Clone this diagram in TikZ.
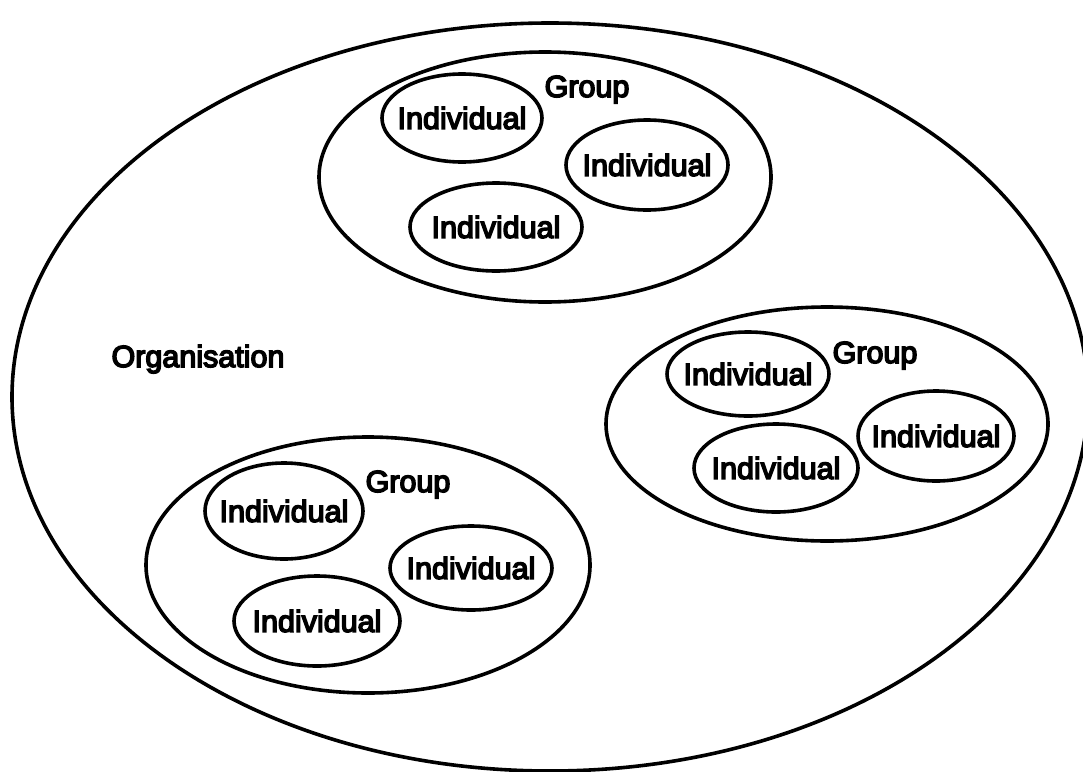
\documentclass[tikz,border=0pt]{standalone}
\usepackage{fontspec}
\newfontfamily\diagfont{Liberation Sans}
\usetikzlibrary{shapes.geometric}
\newcommand{\heavy}[1]{\special{pdf:code q 2 Tr 1.5 w}#1\special{pdf:code Q}}
\tikzset{
  oval/.style={draw=black, line width=3.6pt, ellipse, inner sep=0pt},
  indiv/.style={oval, font=\diagfont\fontsize{30.5}{36}\selectfont},
  lbl/.style={anchor=base, inner sep=0pt, font=\diagfont\fontsize{30.5}{36}\selectfont}
}
\newcommand{\indtext}{\makebox[0pt][c]{\heavy{Individual}}}
\begin{document}
\begin{tikzpicture}[x=1pt,y=-1pt]
\useasboundingbox (0,0) rectangle (1083,771);
% organisation
\node[oval, minimum width=1076pt, minimum height=748pt] (org) at (550,397) {};
\node[lbl] (orglbl) at (198,367) {\heavy{Organisation}};
% group 1 (top)
\node[oval, minimum width=452pt, minimum height=250pt] (g1) at (545,177) {};
\node[lbl] (g1lbl) at (587,97) {\heavy{Group}};
\node[indiv, minimum width=160pt, minimum height=88pt] (i11) at (462,118) {\indtext};
\node[indiv, minimum width=162pt, minimum height=90pt] (i12) at (647,165) {\indtext};
\node[indiv, minimum width=172pt, minimum height=88pt] (i13) at (496,227) {\indtext};
% group 2 (right)
\node[oval, minimum width=442pt, minimum height=234pt] (g2) at (827,424) {};
\node[lbl] (g2lbl) at (875,363) {\heavy{Group}};
\node[indiv, minimum width=162pt, minimum height=84pt] (i21) at (748,374) {\indtext};
\node[indiv, minimum width=156pt, minimum height=90pt] (i22) at (936,436) {\indtext};
\node[indiv, minimum width=164pt, minimum height=88pt] (i23) at (776,468) {\indtext};
% group 3 (bottom left)
\node[oval, minimum width=444pt, minimum height=256pt] (g3) at (368,565) {};
\node[lbl] (g3lbl) at (408,492) {\heavy{Group}};
\node[indiv, minimum width=158pt, minimum height=96pt] (i31) at (284,511) {\indtext};
\node[indiv, minimum width=162pt, minimum height=84pt] (i32) at (471,568) {\indtext};
\node[indiv, minimum width=166pt, minimum height=90pt] (i33) at (317,621) {\indtext};
\end{tikzpicture}
\end{document}
